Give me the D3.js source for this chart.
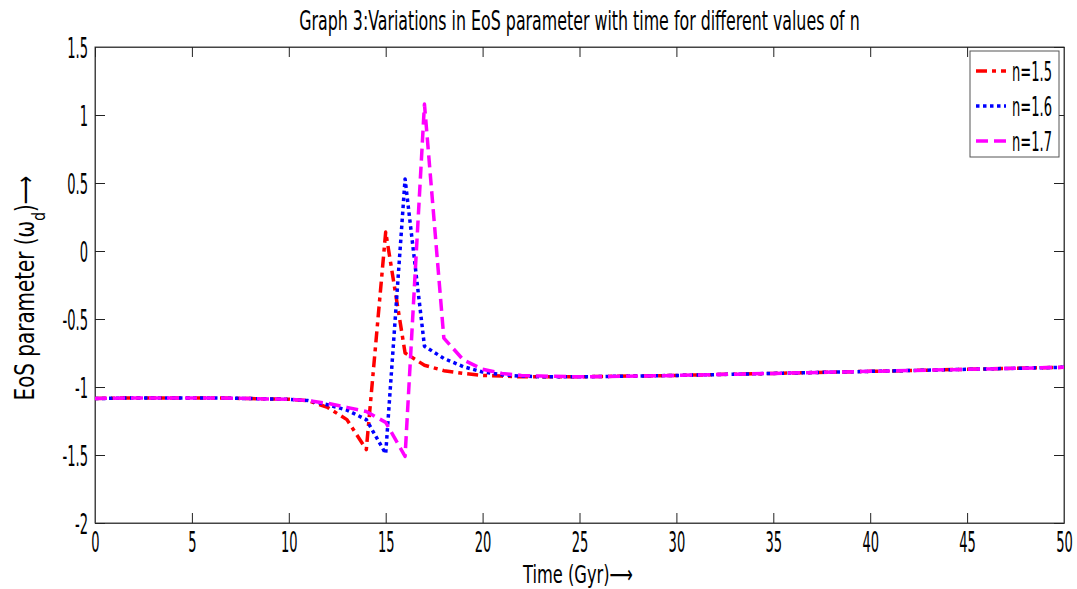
<!DOCTYPE html>
<html>
<head>
<meta charset="utf-8">
<script src="https://cdn.jsdelivr.net/npm/d3@7"></script>
<style>
  body { margin: 0; background: #fff; }
  svg text { font-family: "DejaVu Sans Condensed", "DejaVu Sans", sans-serif; font-stretch: condensed; }
</style>
</head>
<body>
<svg id="chart" width="1077" height="589"></svg>
<script>
// ---- data ----
const times = [0, 2, 4, 6, 8, 10, 11, 12, 13, 14, 15, 16, 17, 18, 19, 20, 21, 22, 23, 25, 30, 35, 40, 45, 50];
const n15 = [-1.085, -1.08, -1.08, -1.08, -1.085, -1.09, -1.10, -1.15, -1.24, -1.46, 0.14, -0.75, -0.84, -0.88, -0.90, -0.915, -0.92, -0.925, -0.925, -0.925, -0.915, -0.90, -0.885, -0.87, -0.855];
const n16 = [-1.085, -1.08, -1.08, -1.08, -1.085, -1.09, -1.10, -1.13, -1.17, -1.24, -1.49, 0.53, -0.70, -0.79, -0.85, -0.89, -0.91, -0.92, -0.925, -0.925, -0.915, -0.90, -0.885, -0.87, -0.855];
const n17 = [-1.085, -1.08, -1.08, -1.08, -1.085, -1.09, -1.10, -1.12, -1.15, -1.18, -1.26, -1.51, 1.08, -0.64, -0.80, -0.87, -0.90, -0.915, -0.92, -0.925, -0.915, -0.90, -0.885, -0.87, -0.855];
const seriesNames = ["n=1.5", "n=1.6", "n=1.7"];
const xTicks = [0, 5, 10, 15, 20, 25, 30, 35, 40, 45, 50];
const yTicks = [-2, -1.5, -1, -0.5, 0, 0.5, 1, 1.5];
const titleText = "Graph 3:Variations in EoS parameter with time for different values of n";

// ---- layout ----
const svg = d3.select("#chart");
const L = 95, R = 1064, T = 47, B = 523;
const x = d3.scaleLinear().domain([0, 50]).range([L, R]);
const y = d3.scaleLinear().domain([-2, 1.5]).range([B, T]);
const axisColor = "#444";

const styles = [
  { color: "#ff0000", dash: "11,5,4,5" },
  { color: "#0000ff", dash: "3.5,3.5" },
  { color: "#ff00ff", dash: "12,6" }
];
const series = [n15, n16, n17];

// squeeze a text horizontally about its anchor x (mimics the narrow reference font)
function squeezeBy(sel, sx) {
  sel.each(function () {
    const ax = +(this.getAttribute("x") || 0);
    const prev = this.getAttribute("transform") || "";
    d3.select(this).attr("transform", `${prev} translate(${ax},0) scale(${sx},1) translate(${-ax},0)`);
  });
}
function squeezeTo(sel, w) {
  sel.each(function () {
    const nat = this.getComputedTextLength();
    squeezeBy(d3.select(this), w / nat);
  });
}

// frame
svg.append("rect").attr("x", L).attr("y", T).attr("width", R - L).attr("height", B - T)
  .attr("fill", "none").attr("stroke", axisColor).attr("stroke-width", 1);

// axes (ticks inward) bottom/left with labels, top/right mirror
const fmt = d => String(d);
const xb = svg.append("g").attr("transform", `translate(0,${B})`)
  .call(d3.axisBottom(x).tickValues(xTicks).tickSizeInner(-10).tickSizeOuter(0).tickPadding(8).tickFormat(fmt));
const yl = svg.append("g").attr("transform", `translate(${L},0)`)
  .call(d3.axisLeft(y).tickValues(yTicks).tickSizeInner(-10).tickSizeOuter(0).tickPadding(7).tickFormat(fmt));
const xt = svg.append("g").attr("transform", `translate(0,${T})`)
  .call(d3.axisTop(x).tickValues(xTicks).tickSizeInner(-10).tickSizeOuter(0).tickFormat(""));
const yr = svg.append("g").attr("transform", `translate(${R},0)`)
  .call(d3.axisRight(y).tickValues(yTicks).tickSizeInner(-10).tickSizeOuter(0).tickFormat(""));
[xb, yl, xt, yr].forEach(g => {
  g.select(".domain").attr("stroke", axisColor);
  g.selectAll(".tick line").attr("stroke", "#222");
  g.selectAll("text").attr("fill", "#000").style("font-size", "29px");
});
xb.selectAll("text").attr("dy", "0.72em");
yl.selectAll("text").attr("dy", "0.36em");
squeezeBy(xb.selectAll("text"), 0.5);
squeezeBy(yl.selectAll("text"), 0.5);

// lines
const line = d3.line().x((d, i) => x(times[i])).y(d => y(d));
series.forEach((s, k) => {
  svg.append("path").datum(s).attr("d", line)
    .attr("fill", "none").attr("stroke", styles[k].color)
    .attr("stroke-width", 3.5).attr("stroke-dasharray", styles[k].dash)
    .attr("stroke-linejoin", "round");
});

// title & labels
const tt = svg.append("text").attr("x", (L + R) / 2).attr("y", 30).attr("text-anchor", "middle")
  .style("font-size", "26px").attr("fill", "#000").text(titleText);
squeezeTo(tt, 561);
const xl = svg.append("text").attr("x", 578).attr("y", 583).attr("text-anchor", "middle")
  .style("font-size", "25px").attr("fill", "#000").text("Time (Gyr)\u27F6");
squeezeTo(xl, 110);
const ylg = svg.append("g").attr("transform", `translate(34,288) rotate(-90)`);
const ylab = ylg.append("text").attr("x", 0).attr("y", 0)
  .attr("text-anchor", "middle").style("font-size", "26px").attr("fill", "#000");
ylab.append("tspan").text("EoS parameter (\u03C9");
ylab.append("tspan").attr("baseline-shift", "sub").style("font-size", "18px").text("d");
ylab.append("tspan").text(")\u27F6");
squeezeTo(ylab, 225);

// legend
const lg = svg.append("g");
lg.append("rect").attr("x", 970).attr("y", 51).attr("width", 89).attr("height", 106)
  .attr("fill", "#fff").attr("stroke", "#555").attr("stroke-width", 1);
seriesNames.forEach((nm, k) => {
  const yy = 71 + k * 35;
  lg.append("line").attr("x1", 976).attr("x2", 1006).attr("y1", yy).attr("y2", yy)
    .attr("stroke", styles[k].color).attr("stroke-width", 3.5).attr("stroke-dasharray", styles[k].dash);
  const t = lg.append("text").attr("x", 1012).attr("y", yy + 10).style("font-size", "27px").attr("fill", "#000").text(nm);
  squeezeTo(t, 40);
});
</script>
</body>
</html>
